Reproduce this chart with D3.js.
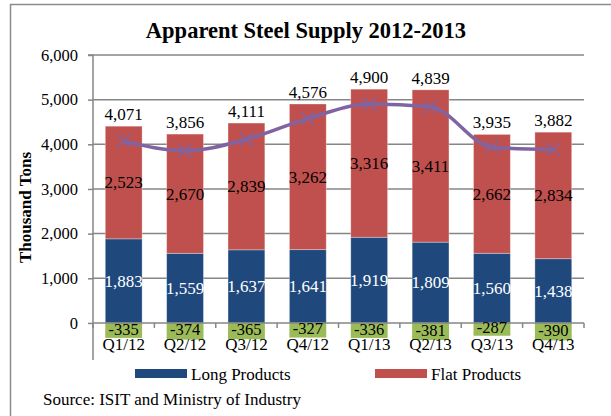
<!DOCTYPE html>
<html>
<head>
<meta charset="utf-8">
<script src="https://cdn.jsdelivr.net/npm/d3@7"></script>
<style>
  body { margin: 0; background: #fff; }
  svg text { font-family: "Liberation Serif", "DejaVu Serif", serif; }
</style>
</head>
<body>
<div id="chart"></div>
<script>
// Chart data
var quarters = ["Q1/12", "Q2/12", "Q3/12", "Q4/12", "Q1/13", "Q2/13", "Q3/13", "Q4/13"];
var longProducts = [1883, 1559, 1637, 1641, 1919, 1809, 1560, 1438];
var flatProducts = [2523, 2670, 2839, 3262, 3316, 3411, 2662, 2834];
var netOther = [-335, -374, -365, -327, -336, -381, -287, -390];
var supplyTotal = [4071, 3856, 4111, 4576, 4900, 4839, 3935, 3882];
var yTicks = [0, 1000, 2000, 3000, 4000, 5000, 6000];

var svgWidth = 611, svgHeight = 416;
var colors = {long: "#1F497D", flat: "#C0504D", neg: "#9BBB59", line: "#8064A2", grid: "#868686"};

var svg = d3.select("#chart")
    .append("svg")
    .attr("width", svgWidth)
    .attr("height", svgHeight);

// outer frame
svg.append("path")
    .attr("d", "M10.5,430 V4.5 H611")
    .attr("fill", "none")
    .attr("stroke", "#8c8c8c")
    .attr("stroke-width", 1.5);

// title
svg.append("text")
    .attr("x", 306)
    .attr("y", 38)
    .attr("text-anchor", "middle")
    .attr("font-size", 22.5)
    .attr("font-weight", "bold")
    .text("Apparent Steel Supply 2012-2013");

// scales
var xScale = d3.scaleBand()
    .domain(quarters)
    .range([93, 584])
    .paddingInner(0.4)
    .paddingOuter(0.2);

var yScale = d3.scaleLinear()
    .domain([-830, 6000])
    .range([360, 55]);

// gridlines
svg.append("g")
    .selectAll("line")
    .data(yTicks.filter(d => d > 0))
    .enter()
    .append("line")
    .attr("x1", 93)
    .attr("x2", 584)
    .attr("y1", d => yScale(d))
    .attr("y2", d => yScale(d))
    .attr("stroke", colors.grid)
    .attr("stroke-width", 1.5);

// y axis
var yAxis = svg.append("g")
    .attr("transform", "translate(93,0)")
    .call(d3.axisLeft(yScale).tickValues(yTicks).tickSize(5).tickPadding(10).tickFormat(d3.format(",")));
yAxis.selectAll(".tick line").attr("stroke", colors.grid).attr("stroke-width", 1.5);
yAxis.selectAll(".tick text").attr("font-size", 16.5).attr("fill", "#000");
yAxis.select(".domain")
    .attr("stroke", colors.grid).attr("stroke-width", 1.5)
    .attr("d", "M-5," + yScale(6000) + "H0V" + yScale(-830));

// y axis title
svg.append("text")
    .attr("transform", "translate(31," + ((yScale(6000) + yScale(-830)) / 2) + ") rotate(-90)")
    .attr("text-anchor", "middle")
    .attr("font-size", 17)
    .attr("font-weight", "bold")
    .text("Thousand Tons");

// stacked bars
var bars = svg.append("g");
quarters.forEach(function(q, i) {
    var x0 = xScale(q), w = xScale.bandwidth();
    bars.append("rect")
        .attr("x", x0).attr("width", w)
        .attr("y", yScale(longProducts[i]))
        .attr("height", yScale(0) - yScale(longProducts[i]))
        .attr("fill", colors.long)
        .attr("stroke", "#fff").attr("stroke-opacity", 0.4).attr("stroke-width", 0.8);
    bars.append("rect")
        .attr("x", x0).attr("width", w)
        .attr("y", yScale(longProducts[i] + flatProducts[i]))
        .attr("height", yScale(longProducts[i]) - yScale(longProducts[i] + flatProducts[i]))
        .attr("fill", colors.flat)
        .attr("stroke", "#fff").attr("stroke-opacity", 0.4).attr("stroke-width", 0.8);
    bars.append("rect")
        .attr("x", x0).attr("width", w)
        .attr("y", yScale(0))
        .attr("height", yScale(netOther[i]) - yScale(0))
        .attr("fill", colors.neg);
});

// x axis line at zero with ticks between categories
var xAxisG = svg.append("g");
xAxisG.append("line")
    .attr("x1", 93).attr("x2", 584)
    .attr("y1", yScale(0)).attr("y2", yScale(0))
    .attr("stroke", colors.grid).attr("stroke-width", 1.5);
xAxisG.selectAll(".sep")
    .data(d3.range(quarters.length + 1))
    .enter()
    .append("line")
    .attr("x1", i => 93 + i * xScale.step())
    .attr("x2", i => 93 + i * xScale.step())
    .attr("y1", yScale(0))
    .attr("y2", yScale(0) + 5)
    .attr("stroke", colors.grid).attr("stroke-width", 1.5);

// category labels
svg.append("g")
    .attr("transform", "translate(0," + yScale(0) + ")")
    .call(d3.axisBottom(xScale).tickSize(0).tickPadding(15))
    .call(g => g.select(".domain").remove())
    .selectAll("text")
    .attr("font-size", 17)
    .attr("fill", "#000");

// supply line
var line = d3.line()
    .x((d, i) => xScale(quarters[i]) + xScale.bandwidth() / 2)
    .y(d => yScale(d))
    .curve(d3.curveMonotoneX);

svg.append("path")
    .datum(supplyTotal)
    .attr("d", line)
    .attr("fill", "none")
    .attr("stroke", colors.line)
    .attr("stroke-width", 3.5);

var markers = svg.append("g");
supplyTotal.forEach(function(v, i) {
    var cx = xScale(quarters[i]) + xScale.bandwidth() / 2, cy = yScale(v), s = 6.5;
    markers.append("path")
        .attr("d", `M${cx - s},${cy - s}L${cx + s},${cy + s}M${cx - s},${cy + s}L${cx + s},${cy - s}`)
        .attr("stroke", colors.line)
        .attr("stroke-width", 1.5);
});

// data labels
var fmt = d3.format(",");
var labels = svg.append("g").attr("font-size", 17).attr("text-anchor", "middle");
quarters.forEach(function(q, i) {
    var cx = xScale(q) + xScale.bandwidth() / 2;
    labels.append("text")
        .attr("x", cx)
        .attr("y", yScale(longProducts[i] + flatProducts[i]) - 6)
        .text(fmt(supplyTotal[i]));
    labels.append("text")
        .attr("x", cx)
        .attr("y", yScale(longProducts[i] + flatProducts[i] / 2))
        .attr("dy", "0.35em")
        .text(fmt(flatProducts[i]));
    labels.append("text")
        .attr("x", cx)
        .attr("y", yScale(longProducts[i] / 2))
        .attr("dy", "0.35em")
        .attr("fill", "#fff")
        .text(fmt(longProducts[i]));
    labels.append("text")
        .attr("x", cx)
        .attr("y", yScale(netOther[i] / 2))
        .attr("dy", "0.25em")
        .attr("font-size", 16.5)
        .text(netOther[i]);
});

// legend
var legendItems = [
    {name: "Long Products", color: colors.long, x: 135},
    {name: "Flat Products", color: colors.flat, x: 375}
];
var legend = svg.append("g");
legendItems.forEach(function(d) {
    legend.append("rect")
        .attr("x", d.x).attr("y", 369)
        .attr("width", 52).attr("height", 9)
        .attr("fill", d.color);
    legend.append("text")
        .attr("x", d.x + 56).attr("y", 380)
        .attr("font-size", 17)
        .text(d.name);
});

// source
svg.append("text")
    .attr("x", 43)
    .attr("y", 405)
    .attr("font-size", 17)
    .text("Source: ISIT and Ministry of Industry");
</script>
</body>
</html>
